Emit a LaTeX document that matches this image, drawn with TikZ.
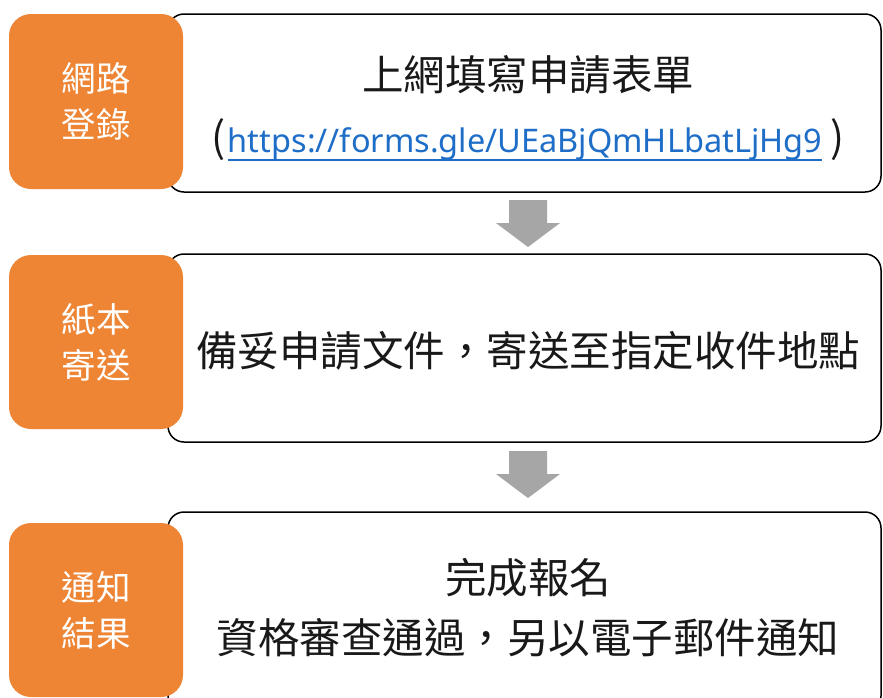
\documentclass[tikz,border=0pt]{standalone}
\usepackage{fontspec}
\setmainfont{Noto Sans CJK TC}
\newfontfamily\urlfont{Noto Sans}
\definecolor{orng}{RGB}{237,133,53}
\definecolor{arrgray}{RGB}{166,166,166}
\definecolor{linkblue}{RGB}{30,110,200}
\definecolor{txt}{RGB}{25,25,25}
\begin{document}
\begin{tikzpicture}[x=1pt,y=-1pt,
  stepbox/.style={draw=black, line width=1.5pt, rounded corners=16pt, fill=white, inner sep=0pt},
  tag/.style={fill=orng, rounded corners=22pt, text=white, minimum width=174pt, align=center,
    font=\fontsize{34.5}{46}\selectfont, inner sep=0pt},
  body/.style={text=txt, font=\fontsize{41.5}{50}\selectfont, inner sep=0pt, anchor=base},
  blockarrow/.style={fill=arrgray, draw=none}]
\useasboundingbox (0,0) rectangle (883,697);
\fill[white] (0,0) rectangle (883,697);
% white boxes
\node[stepbox, minimum width=713pt, minimum height=178pt] (box1) at (524.5,103) {};
\node[stepbox, minimum width=713pt, minimum height=188pt] (box2) at (524.5,348) {};
\node[stepbox, minimum width=713pt, minimum height=200pt] (box3) at (524.5,612) {};
% orange tags
\node[tag, minimum height=175pt] (tag1) at (96,101.5) {網路\\登錄};
\node[tag, minimum height=174pt] (tag2) at (96,342) {紙本\\寄送};
\node[tag, minimum height=174pt] (tag3) at (96,610) {通知\\結果};
% texts box 1
\node[body] (t1) at (528,90) {上網填寫申請表單};
\node[inner sep=0pt, anchor=base, text=linkblue, font=\urlfont\fontsize{32.5}{36}\selectfont] (url) at (525,152) {https://forms.gle/UEaBjQmHLbatLjHg9};
\draw[linkblue, line width=1.6pt] ([yshift=-8pt]url.base west) -- ([yshift=-8pt]url.base east);
\node[body, anchor=base east] (lp) at ([xshift=-2pt]url.base west) {(};
\node[body, anchor=base west] (rp) at ([xshift=8pt]url.base east) {)};
% box 2
\node[body] (t2) at (528,366) {備妥申請文件，寄送至指定收件地點};
% box 3
\node[body] (t3) at (528,593) {完成報名};
\node[body] (t4) at (528,653) {資格審查通過，另以電子郵件通知};
% block arrows
\coordinate (a1) at (528,200);
\coordinate (a2) at (528,451);
\foreach \c in {a1,a2}{
  \fill[blockarrow] ([xshift=-19pt]\c) -- ([xshift=19pt]\c) -- ([xshift=19pt,yshift=-23pt]\c)
    -- ([xshift=32pt,yshift=-23pt]\c) -- ([yshift=-47pt]\c) -- ([xshift=-32pt,yshift=-23pt]\c)
    -- ([xshift=-19pt,yshift=-23pt]\c) -- cycle;
}
\end{tikzpicture}
\end{document}
